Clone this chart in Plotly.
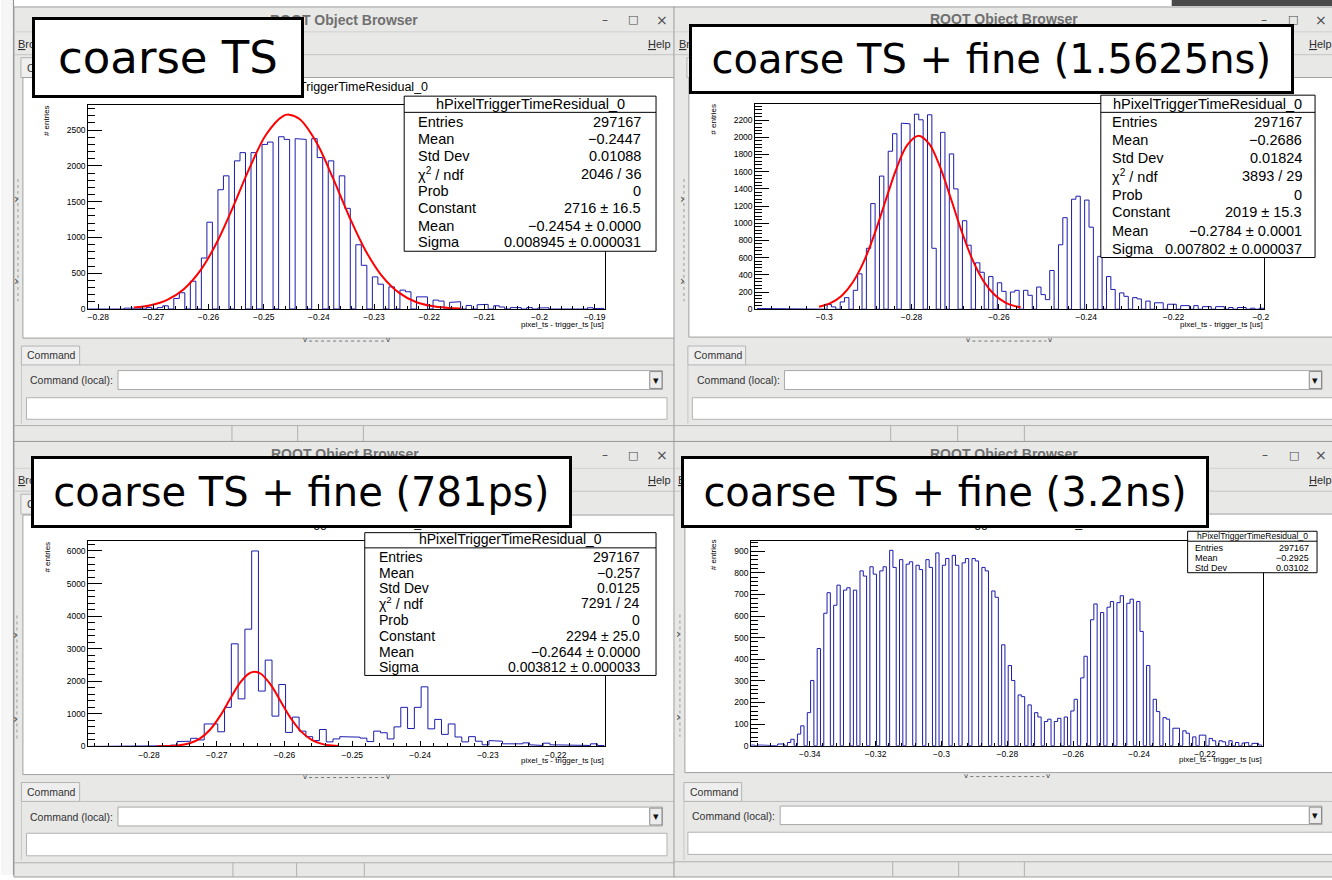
import plotly.graph_objects as go

W, H = 1332, 880


def px(x):
    return x / W


def py(y):
    return 1.0 - y / H


# ====================== DATA ======================
hist_title = "hPixelTriggerTimeResidual_0"
x_title = "pixel_ts - trigger_ts [us]"
y_title = "# entries"
panel_labels = ["coarse TS", "coarse TS + fine (1.5625ns)",
                "coarse TS + fine (781ps)", "coarse TS + fine (3.2ns)"]

# ---- panel 1 : coarse TS ----
p1_bin_start = -0.2823
p1_bin_width = 0.001
p1_counts = [0, 8, 0, 5, 0, 10, 0, 12, 10, 12,
             0, 20, 0, 20, 45, 0, 148, 227, 0, 389,
             0, 713, 1213, 0, 1667, 1861, 0, 2070, 2185, 0,
             2185, 0, 2300, 2333, 0, 2407, 2370, 0, 2380, 2370,
             0, 2380, 2116, 0, 2070, 0, 1861, 1407, 0, 898,
             611, 0, 449, 347, 0, 310, 0, 264, 241, 0,
             170, 170, 0, 125, 111, 0, 93, 102, 0, 50,
             0, 60, 65, 0, 46, 28, 0, 20, 20, 0,
             20, 0, 15, 18, 0, 10, 10, 0, 5, 8,
             0, 18, 5, 10]
p1_fit_x = [-0.2735, -0.2705, -0.2675, -0.2645, -0.2615, -0.2585, -0.2555, -0.2525,
            -0.2495, -0.2465, -0.2454, -0.2435, -0.2405, -0.2375, -0.2345, -0.2315,
            -0.2285, -0.2255, -0.2225, -0.2195, -0.2165, -0.2143]
p1_fit_y = [20, 53, 128, 278, 537, 929, 1436, 1982, 2445, 2696, 2716, 2655, 2337, 1839,
            1293, 812, 456, 229, 102, 41, 15, 6]
p1_xticks = [-0.28, -0.27, -0.26, -0.25, -0.24, -0.23, -0.22, -0.21, -0.2, -0.19]
p1_xticklabels = ["−0.28", "−0.27", "−0.26", "−0.25", "−0.24", "−0.23", "−0.22",
                  "−0.21", "−0.2", "−0.19"]
p1_yticks = [0, 500, 1000, 1500, 2000, 2500]
p1_stats = [("Entries", "297167"), ("Mean", "−0.2447"), ("Std Dev", "0.01088"),
            ("χ<sup>2</sup> / ndf", "2046 / 36"), ("Prob", "0"),
            ("Constant", "2716 ± 16.5"), ("Mean", "−0.2454 ± 0.0000"),
            ("Sigma", "0.008945 ± 0.000031")]

# ---- panel 2 : coarse TS + fine (1.5625ns) ----
p2_bin_start = -0.31535
p2_bin_width = 0.001
p2_counts = [8, 8, 0, 8, 0, 8, 8, 0, 0, 0,
             0, 0, 0, 0, 8, 0, 54, 27, 0, 85,
             135, 0, 220, 412, 0, 709, 1229, 0, 1549, 0,
             1838, 2042, 0, 2165, 2157, 0, 2269, 2204, 0, 2262,
             709, 0, 2058, 0, 1807, 1400, 0, 1030, 745, 0,
             540, 430, 0, 380, 0, 308, 208, 0, 200, 220,
             0, 220, 162, 0, 258, 170, 112, 451, 0, 750,
             1065, 0, 1280, 1315, 0, 1270, 955, 0, 615, 0,
             380, 230, 0, 190, 150, 0, 135, 120, 0, 95,
             0, 75, 75, 0, 58, 58, 0, 42, 42, 0,
             42, 0, 30, 30, 0, 30, 30, 0, 20, 0,
             20, 20, 0, 12, 0, 12]
p2_fit_x = [-0.3012, -0.2985, -0.2960, -0.2935, -0.2910, -0.2885, -0.2860, -0.2835,
            -0.2810, -0.2784, -0.2760, -0.2735, -0.2710, -0.2685, -0.2660, -0.2635,
            -0.2610, -0.2585, -0.2565, -0.2550]
p2_fit_y = [28, 73, 158, 311, 548, 873, 1256, 1631, 1910, 2019, 1926, 1658, 1288, 903,
            571, 326, 168, 78, 39, 22]
p2_xticks = [-0.3, -0.28, -0.26, -0.24, -0.22, -0.2]
p2_xticklabels = ["−0.3", "−0.28", "−0.26", "−0.24", "−0.22", "−0.2"]
p2_yticks = [0, 200, 400, 600, 800, 1000, 1200, 1400, 1600, 1800, 2000, 2200]
p2_stats = [("Entries", "297167"), ("Mean", "−0.2686"), ("Std Dev", "0.01824"),
            ("χ<sup>2</sup> / ndf", "3893 / 29"), ("Prob", "0"),
            ("Constant", "2019 ± 15.3"), ("Mean", "−0.2784 ± 0.0001"),
            ("Sigma", "0.007802 ± 0.000037")]

# ---- panel 3 : coarse TS + fine (781ps) ----
p3_bin_start = -0.28885
p3_bin_width = 0.001
p3_counts = [0, 0, 0, 0, 0, 0, 0, 0, 0, 10,
             15, 20, 40, 150, 160, 250, 200, 690, 690, 450,
             1200, 3150, 1460, 3600, 6000, 1700, 2650, 930, 1900, 430,
             900, 470, 300, 180, 520, 140, 230, 300, 285, 285,
             255, 150, 470, 420, 230, 600, 1200, 550, 1200, 1830,
             540, 830, 370, 690, 290, 140, 300, 160, 50, 180,
             160, 80, 100, 80, 110, 50, 30, 100, 50, 30,
             50, 30, 50, 30, 80, 30]
p3_fit_x = [-0.2788, -0.2770, -0.2755, -0.2740, -0.2725, -0.2710, -0.2695, -0.2680,
            -0.2665, -0.2652, -0.2644, -0.2635, -0.2620, -0.2605, -0.2590, -0.2575,
            -0.2560, -0.2545, -0.2530, -0.2520]
p3_fit_y = [2, 10, 33, 96, 240, 512, 937, 1469, 1971, 2244, 2294, 2231, 1881, 1359, 841,
            446, 202, 79, 26, 12]
p3_xticks = [-0.28, -0.27, -0.26, -0.25, -0.24, -0.23, -0.22]
p3_xticklabels = ["−0.28", "−0.27", "−0.26", "−0.25", "−0.24", "−0.23", "−0.22"]
p3_yticks = [0, 1000, 2000, 3000, 4000, 5000, 6000]
p3_stats = [("Entries", "297167"), ("Mean", "−0.257"), ("Std Dev", "0.0125"),
            ("χ<sup>2</sup> / ndf", "7291 / 24"), ("Prob", "0"),
            ("Constant", "2294 ± 25.0"), ("Mean", "−0.2644 ± 0.0000"),
            ("Sigma", "0.003812 ± 0.000033")]

# ---- panel 4 : coarse TS + fine (3.2ns) ----
p4_bin_start = -0.35774
p4_bin_width = 0.001
p4_counts = [3, 0, 3, 3, 0, 3, 3, 0, 8, 8,
             0, 15, 30, 0, 54, 92, 0, 153, 302, 0,
             450, 0, 613, 708, 0, 650, 743, 0, 720, 731,
             0, 720, 0, 809, 785, 0, 828, 794, 0, 809,
             828, 0, 904, 825, 0, 861, 0, 840, 851, 0,
             835, 815, 0, 861, 825, 0, 892, 0, 835, 866,
             0, 881, 835, 0, 846, 866, 0, 866, 855, 0,
             825, 809, 0, 716, 687, 0, 467, 0, 371, 302,
             0, 235, 227, 0, 189, 0, 153, 133, 0, 112,
             123, 0, 112, 127, 0, 133, 0, 161, 215, 0,
             314, 414, 0, 583, 656, 0, 616, 0, 641, 667,
             0, 662, 694, 0, 659, 678, 0, 667, 529, 0,
             371, 0, 215, 158, 0, 130, 123, 0, 81, 81,
             0, 69, 58, 0, 41, 0, 49, 49, 0, 34,
             23, 0, 23, 18, 0, 23, 0, 15, 0, 12,
             15, 0, 11, 11, 3]
p4_xticks = [-0.34, -0.32, -0.3, -0.28, -0.26, -0.24, -0.22]
p4_xticklabels = ["−0.34", "−0.32", "−0.3", "−0.28", "−0.26", "−0.24", "−0.22"]
p4_yticks = [0, 100, 200, 300, 400, 500, 600, 700, 800, 900]
p4_stats = [("Entries", "297167"), ("Mean", "−0.2925"), ("Std Dev", "0.03102")]

# ====================== LAYOUT GEOMETRY (pixels) ======================
panels = [
    dict(counts=p1_counts, start=p1_bin_start, width=p1_bin_width, fit=(p1_fit_x, p1_fit_y),
         frame=(87.7, 105.5, 606.3, 310.8), xr=(-0.2818, -0.1882), yr=(0, 2852),
         xt=p1_xticks, xtl=p1_xticklabels, yt=p1_yticks, xminor=0.002, yminor=100,
         stats=p1_stats, sbox=(405, 96.7, 658, 252.7), s_title_y=104.7, s_sep=113,
         s_rows=[122.7, 140, 157.3, 174.7, 192, 209.3, 227, 243.7], s_lx=418, s_rx=644.4,
         s_fs=14.5, s_tfs=14.5,
         ytitle=(46, 121), xtitle=(606.3, 326.7), htitle=(347, 88),
         label=(33, 18.3, 302, 96.7), label_fs=45),
    dict(counts=p2_counts, start=p2_bin_start, width=p2_bin_width, fit=(p2_fit_x, p2_fit_y),
         frame=(757.7, 105, 1269, 311), xr=(-0.3158, -0.1992), yr=(0, 2383),
         xt=p2_xticks, xtl=p2_xticklabels, yt=p2_yticks, xminor=0.004, yminor=40,
         stats=p2_stats, sbox=(1104.8, 95.7, 1320, 259), s_title_y=105, s_sep=113,
         s_rows=[123, 141.3, 159.3, 177.3, 196, 213.7, 232.3, 250], s_lx=1115.3, s_rx=1308.2,
         s_fs=14.5, s_tfs=14.5,
         ytitle=(715.6, 120), xtitle=(1269, 326), htitle=(1013, 86),
         label=(694.5, 26, 1296, 93.3), label_fs=40),
    dict(counts=p3_counts, start=p3_bin_start, width=p3_bin_width, fit=(p3_fit_x, p3_fit_y),
         frame=(87.7, 544.3, 606.5, 750.7), xr=(-0.28895, -0.21276), yr=(0, 6300),
         xt=p3_xticks, xtl=p3_xticklabels, yt=p3_yticks, xminor=0.002, yminor=200,
         stats=p3_stats, sbox=(365.4, 535.7, 658, 679.3), s_title_y=542.5, s_sep=551,
         s_rows=[560, 576, 591.7, 606.7, 623.7, 639.3, 656, 670.7], s_lx=379, s_rx=643.2,
         s_fs=14, s_tfs=14,
         ytitle=(47, 560), xtitle=(606.5, 765), htitle=(347, 526),
         label=(33, 460, 570.5, 529), label_fs=40),
    dict(counts=p4_counts, start=p4_bin_start, width=p4_bin_width, fit=None,
         frame=(753.5, 543.7, 1268, 750), xr=(-0.3578, -0.2023), yr=(0, 949),
         xt=p4_xticks, xtl=p4_xticklabels, yt=p4_yticks, xminor=0.004, yminor=20,
         stats=p4_stats, sbox=(1192, 534.3, 1322, 576), s_title_y=539.3, s_sep=544.3,
         s_rows=[551, 561, 571], s_lx=1198.5, s_rx=1314.6,
         s_fs=9, s_tfs=8.5,
         ytitle=(715.6, 558), xtitle=(1268, 764), htitle=(1011, 526),
         label=(686, 460.7, 1211, 529.3), label_fs=40),
]

windows = [
    dict(box=(13, 7, 677, 444), tb_line=32, title=(345, 20), btn_x=(607, 635, 664), btn_y=20,
         menu_y=44, browser_x=16, help_x=649, sep_y=55, tab=(20, 58, 95, 78),
         canvas=(22, 78, 677, 340), arrows_x=17, arrows_y=(200, 283), split_x=(305.5, 389),
         split_y=343, cmdtab=(20.5, 348, 79, 367), panel_bottom=426, cmdlocal=(28.6, 382),
         combo=(117.5, 372.7, 664.5, 391.7), field=(25.6, 400, 669, 421.7), status_y=428,
         dividers=(232, 298, 364)),
    dict(box=(676, 7, 1340, 444), tb_line=32, title=(1007.7, 19), btn_x=(1269, 1297.7, 1325.6),
         btn_y=20, menu_y=44, browser_x=680.5, help_x=1313, sep_y=55, tab=(689, 58, 760, 78),
         canvas=(691, 78, 1340, 339), arrows_x=686, arrows_y=(200, 283), split_x=(971.8, 1054),
         split_y=343, cmdtab=(690, 348, 748, 367), panel_bottom=426, cmdlocal=(698, 382),
         combo=(787, 372.7, 1327, 391.7), field=(694.5, 400, 1340, 421.7), status_y=428,
         dividers=(893.7, 961, 1028)),
    dict(box=(13, 444, 677, 882), tb_line=471, title=(346, 457), btn_x=(607, 635, 664), btn_y=458,
         menu_y=483, browser_x=16, help_x=649, sep_y=494, tab=(20, 497, 95, 517),
         canvas=(22, 518, 677, 779), arrows_x=16, arrows_y=(639, 723), split_x=(305.5, 389),
         split_y=782, cmdtab=(20.5, 787, 79, 806), panel_bottom=865, cmdlocal=(28.6, 821.7),
         combo=(117.5, 811.7, 664.5, 830.7), field=(25.6, 838, 669, 860.7), status_y=867.7,
         dividers=(233, 297, 365)),
    dict(box=(676, 444, 1340, 882), tb_line=471, title=(1007.7, 457), btn_x=(1269.4, 1299, 1326),
         btn_y=458, menu_y=482.7, browser_x=679, help_x=1313, sep_y=494, tab=(685, 497, 756, 517),
         canvas=(687, 517, 1340, 777), arrows_x=682, arrows_y=(638, 721), split_x=(969.7, 1052),
         split_y=781, cmdtab=(686, 787, 744, 806), panel_bottom=865, cmdlocal=(693.6, 820.7),
         combo=(782.7, 810.7, 1327, 829.3), field=(690, 837, 1340, 859.3), status_y=866.7,
         dividers=(895.8, 962, 1028)),
]

WIN_BG = "#e8e8e7"
HIST_COLOR = "#1c1cae"
UI_FONT = "Liberation Sans, Arial, sans-serif"
NARROW = "Liberation Sans Narrow, Liberation Sans, Arial, sans-serif"

shapes = []
annots = []


def rect(x0, y0, x1, y1, fill=None, line=None, lw=1, layer="below"):
    shapes.append(dict(type="rect", xref="paper", yref="paper",
                       x0=px(x0), x1=px(x1), y0=py(y1), y1=py(y0),
                       fillcolor=fill if fill else "rgba(0,0,0,0)",
                       line=dict(color=line if line else "rgba(0,0,0,0)", width=lw if line else 0),
                       layer=layer))


def seg(x0, y0, x1, y1, color, lw=1, dash="solid", layer="below"):
    shapes.append(dict(type="line", xref="paper", yref="paper",
                       x0=px(x0), x1=px(x1), y0=py(y0), y1=py(y1),
                       line=dict(color=color, width=lw, dash=dash), layer=layer))


def text(x, y, s, size=11, color="#333333", family=UI_FONT, xa="left", ya="middle", **kw):
    d = dict(x=px(x), y=py(y), xref="paper", yref="paper", text=s, showarrow=False,
             xanchor=xa, yanchor=ya, font=dict(size=size, color=color, family=family),
             borderpad=0)
    d.update(kw)
    annots.append(d)


# background strip at the far left
rect(0, 0, 13, 880, fill="#f6f6f6")
seg(12.5, 0, 12.5, 880, "#8a8a8a")
rect(1176, 0, 1340, 6, fill="#4a4a4a")

# ====================== WINDOW CHROME ======================
for c in windows:
    L, T, R, B = c["box"]
    rect(L, T, R, B, fill=WIN_BG, line="#9c9c9c")
    seg(L, c["tb_line"], R, c["tb_line"], "#d0d0d0")
    text(c["title"][0], c["title"][1], "<b>ROOT Object Browser</b>", 14, "#707070", NARROW, xa="center")
    for bx, ch, sz in zip(c["btn_x"], ["–", "□", "×"], [12, 11, 14]):
        text(bx, c["btn_y"], ch, sz, "#4a4a4a", "DejaVu Sans", xa="center")
    text(c["browser_x"], c["menu_y"], "<u>B</u>rowser", 11, "#2e2e2e")
    text(c["help_x"], c["menu_y"], "<u>H</u>elp", 11, "#2e2e2e")
    seg(L + 1, c["sep_y"], R, c["sep_y"], "#c4c4c4")
    tx0, ty0, tx1, ty1 = c["tab"]
    rect(tx0, ty0, tx1, ty1, fill="#efefef", line="#b4b4b4")
    text(tx0 + 5, (ty0 + ty1) / 2, "Canvas_1", 10.5, "#333333")
    cx0, cy0, cx1, cy1 = c["canvas"]
    rect(cx0, cy0, cx1, cy1, fill="white", line="#a0a0a0")
    for ay in c["arrows_y"]:
        text(c["arrows_x"] - 1, ay, "›", 12, "#444444", "DejaVu Sans", xa="center")
    seg(c["arrows_x"], c["arrows_y"][0] - 20, c["arrows_x"], c["arrows_y"][1] + 20, "#9a9a9a", 1, "dot")
    s0, s1 = c["split_x"]
    seg(s0 + 4, c["split_y"], s1 - 4, c["split_y"], "#777777", 1, "dot")
    text(s0, c["split_y"] - 1, "v", 7, "#333333", "DejaVu Sans", xa="center")
    text(s1, c["split_y"] - 1, "v", 7, "#333333", "DejaVu Sans", xa="center")
    kx0, ky0, kx1, ky1 = c["cmdtab"]
    seg(kx1, ky1, R, ky1, "#bdbdbd")
    seg(kx0, ky1, kx0, c["panel_bottom"], "#c8c8c8")
    rect(kx0, ky0, kx1, ky1, fill="#eeeeee", line="#b4b4b4")
    text(kx0 + 5, (ky0 + ky1) / 2, "Command", 10.5, "#333333")
    text(c["cmdlocal"][0], c["cmdlocal"][1], "Command (local):", 10.5, "#333333")
    bx0, by0, bx1, by1 = c["combo"]
    rect(bx0, by0, bx1, by1, fill="white", line="#a8a8a8")
    rect(bx1 - 12.8, by0 + 1, bx1 - 0.5, by1 - 1, fill="#ececec", line="#8a8a8a")
    text(bx1 - 6.6, (by0 + by1) / 2, "▾", 11, "#111111", "DejaVu Sans", xa="center")
    fx0, fy0, fx1, fy1 = c["field"]
    rect(fx0, fy0, fx1, fy1, fill="white", line="#b4b4b4")
    seg(L, c["status_y"], R, c["status_y"], "#b0b0b0")
    for d in c["dividers"]:
        seg(d, c["status_y"], d, B, "#b0b0b0")

# ====================== HISTOGRAMS ======================
fig = go.Figure()
axes_layout = {}
TICKFONT = dict(family="Liberation Sans, Arial, sans-serif", size=8.5, color="black")

for i, p in enumerate(panels, start=1):
    sfx = "" if i == 1 else str(i)
    # step outline built from bin edges and bin contents
    xs, ys = [p["start"]], [0]
    for k, cnt in enumerate(p["counts"]):
        e0 = round(p["start"] + k * p["width"], 6)
        e1 = round(p["start"] + (k + 1) * p["width"], 6)
        xs += [e0, e1]
        ys += [cnt, cnt]
    xs.append(round(p["start"] + len(p["counts"]) * p["width"], 6))
    ys.append(0)
    fig.add_trace(go.Scatter(x=xs, y=ys, mode="lines", line=dict(color=HIST_COLOR, width=1),
                             xaxis="x" + sfx, yaxis="y" + sfx, hoverinfo="skip", showlegend=False))
    if p["fit"] is not None:
        fig.add_trace(go.Scatter(x=p["fit"][0], y=p["fit"][1], mode="lines",
                                 line=dict(color="#ff0000", width=2, shape="spline"),
                                 xaxis="x" + sfx, yaxis="y" + sfx, hoverinfo="skip",
                                 showlegend=False))
    x0, y0, x1, y1 = p["frame"]
    axes_layout["xaxis" + sfx] = dict(
        domain=[px(x0), px(x1)], anchor="y" + sfx, range=list(p["xr"]),
        tickmode="array", tickvals=p["xt"], ticktext=p["xtl"],
        ticks="inside", ticklen=5, tickcolor="black", tickwidth=1,
        minor=dict(ticks="inside", ticklen=3, tickcolor="black", tickmode="linear",
                   tick0=0, dtick=p["xminor"], showgrid=False),
        showline=True, linecolor="black", linewidth=1, mirror=True,
        showgrid=False, zeroline=False, tickfont=TICKFONT, fixedrange=True)
    axes_layout["yaxis" + sfx] = dict(
        domain=[py(y1), py(y0)], anchor="x" + sfx, range=list(p["yr"]),
        tickmode="array", tickvals=p["yt"], ticktext=[str(v) for v in p["yt"]],
        ticks="inside", ticklen=14, tickcolor="black", tickwidth=1,
        minor=dict(ticks="inside", ticklen=7, tickcolor="black", tickmode="linear",
                   tick0=0, dtick=p["yminor"], showgrid=False),
        showline=True, linecolor="black", linewidth=1, mirror=True,
        showgrid=False, zeroline=False, tickfont=TICKFONT, fixedrange=True)

    # axis titles
    text(p["ytitle"][0], p["ytitle"][1], y_title, 8, "black", UI_FONT, xa="center",
         textangle=-90)
    text(p["xtitle"][0], p["xtitle"][1], x_title, 8, "black", UI_FONT, xa="right")

    # stats box
    sx0, sy0, sx1, sy1 = p["sbox"]
    rect(sx0, sy0, sx1, sy1, fill="white", line="black", lw=1, layer="above")
    seg(sx0, p["s_sep"], sx1, p["s_sep"], "black", 1, layer="above")
    text((sx0 + sx1) / 2, p["s_title_y"], hist_title, p["s_tfs"], "black", UI_FONT, xa="center")
    for (name, val), ry in zip(p["stats"], p["s_rows"]):
        text(p["s_lx"], ry, name, p["s_fs"], "black", UI_FONT, xa="left")
        text(p["s_rx"], ry, val, p["s_fs"], "black", UI_FONT, xa="right")

# histogram titles (mostly hidden behind the big labels)
for p in panels:
    text(p["htitle"][0], p["htitle"][1], hist_title, 12.5, "black", UI_FONT, xa="center")

# big labels
for p, lab in zip(panels, panel_labels):
    lx0, ly0, lx1, ly1 = p["label"]
    text((lx0 + lx1) / 2, (ly0 + ly1) / 2, lab, p["label_fs"], "black", "DejaVu Sans",
         xa="center", ya="middle", bgcolor="white", bordercolor="black", borderwidth=3,
         width=(lx1 - lx0) - 3, height=(ly1 - ly0) - 3, align="center", valign="middle")

fig.update_layout(
    width=W, height=H, autosize=False,
    margin=dict(l=0, r=0, t=0, b=0, pad=0),
    paper_bgcolor="white", plot_bgcolor="rgba(0,0,0,0)",
    showlegend=False, shapes=shapes, annotations=annots,
    **axes_layout,
)

fig.write_html("out.html", config={"displayModeBar": False, "staticPlot": True})
